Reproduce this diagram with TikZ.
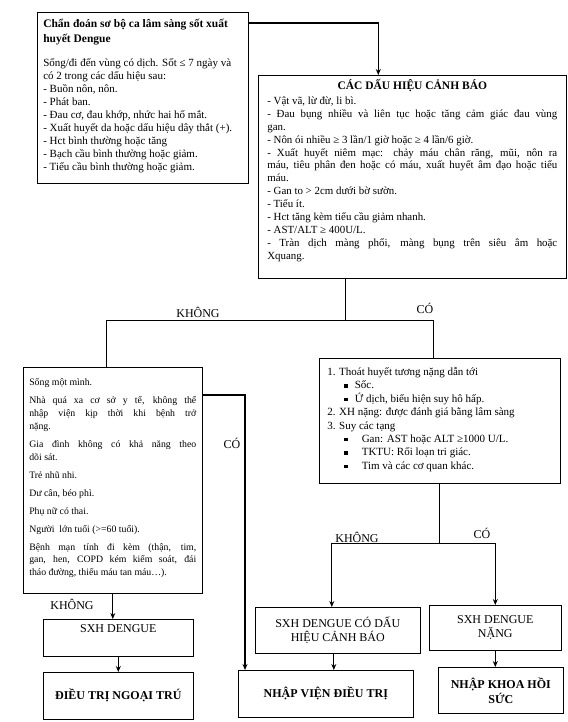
\documentclass[tikz,border=0pt]{standalone}
\usepackage{fontspec}
\setmainfont{Liberation Serif}
\usetikzlibrary{arrows.meta}
\newcommand{\fixbox}[3]{\parbox[c][#2][t]{#1}{#3}}
\newcommand{\sqbul}[1]{\hspace*{17pt}\rule[1pt]{3.5pt}{3.5pt}\hspace{#1}}

\begin{document}
\begin{tikzpicture}[x=1pt,y=-1pt,>={Stealth[length=6pt,width=5pt]},
  box/.style={draw,line width=0.6pt,inner xsep=6pt,inner ysep=4pt,anchor=north west},
  endbox/.style={draw,line width=0.6pt,anchor=north west,align=center,
    font=\fontsize{12}{14}\selectfont},
  conn/.style={line width=1.3pt},
  lbl/.style={font=\fontsize{12}{14}\selectfont}]
\useasboundingbox (0,0) rectangle (567,722);

% chan doan so bo
\node[box] (diag) at (37,12) {\fixbox{199pt}{163pt}{\fontsize{11}{13}\selectfont
  \vspace*{3pt}
  {\fontsize{11.5}{14.5}\selectfont\bfseries Chẩn đoán sơ bộ ca lâm sàng sốt xuất\\
  huyết Dengue\par}\vspace{11pt}
  Sống/đi đến vùng có dịch. Sốt ≤ 7 ngày và\\
  có 2 trong các dấu hiệu sau:\\
  - Buồn nôn, nôn.\\
  - Phát ban.\\
  - Đau cơ, đau khớp, nhức hai hố mắt.\\
  - Xuất huyết da hoặc dấu hiệu dây thắt (+).\\
  - Hct bình thường hoặc tăng\\
  - Bạch cầu bình thường hoặc giảm.\\
  - Tiểu cầu bình thường hoặc giảm.}};

% dau hieu canh bao
\node[box,inner xsep=9pt] (warn) at (258,75) {\fixbox{290pt}{195pt}{\fontsize{10.9}{12.9}\selectfont
  \hyphenpenalty=10000
  {\centering\fontsize{11.5}{14}\selectfont\bfseries CÁC DẤU HIỆU CẢNH BÁO\par}\vspace{2pt}
  - Vật vã, lừ đừ, li bì.\par
  - Đau bụng nhiều và liên tục hoặc tăng cảm giác đau vùng\linebreak gan.\par
  - Nôn ói nhiều ≥ 3 lần/1 giờ hoặc ≥ 4 lần/6 giờ.\par
  - Xuất huyết niêm mạc: chảy máu chân răng, mũi, nôn ra\linebreak
  máu, tiêu phân đen hoặc có máu, xuất huyết âm đạo hoặc tiểu\linebreak máu.\par
  - Gan to > 2cm dưới bờ sườn.\par
  - Tiểu ít.\par
  - Hct tăng kèm tiểu cầu giảm nhanh.\par
  - AST/ALT ≥ 400U/L.\par
  - Tràn dịch màng phổi, màng bụng trên siêu âm hoặc\linebreak Xquang.}};

% nguy co
\node[box] (mild) at (23,367) {\fixbox{167pt}{218pt}{\fontsize{9.8}{12.8}\selectfont
  \hyphenpenalty=10000 \setlength{\parskip}{5.2pt}
  \vspace*{2pt}
  Sống một mình.\par
  Nhà quá xa cơ sở y tế, không thể\linebreak nhập viện kịp thời khi bệnh trở\linebreak nặng.\par
  Gia đình không có khả năng theo\linebreak dõi sát.\par
  Trẻ nhũ nhi.\par
  Dư cân, béo phì.\par
  Phụ nữ có thai.\par
  Người \ lớn tuổi (>=60 tuổi).\par
  Bệnh mạn tính đi kèm (thận, tim,\linebreak gan, hen, COPD kém kiểm soát, đái\linebreak
  tháo đường, thiếu máu tan máu…).}};

% dengue nang
\node[box,inner xsep=8pt] (risk) at (319,358) {\fixbox{225pt}{117pt}{\fontsize{11}{13.4}\selectfont
  \vspace*{5pt}
  1. Thoát huyết tương nặng dẫn tới\\
  \sqbul{7pt}Sốc.\\
  \sqbul{7pt}Ứ dịch, biểu hiện suy hô hấp.\\
  2. XH nặng: được đánh giá bằng lâm sàng\\
  3. Suy các tạng\\
  \sqbul{14pt}Gan: AST hoặc ALT ≥1000 U/L.\\
  \sqbul{14pt}TKTU: Rối loạn tri giác.\\
  \sqbul{14pt}Tim và các cơ quan khác.}};

\node[endbox,inner sep=0pt] (dengue) at (43,619)
  {\fixbox{150pt}{37pt}{\centering\vspace{5pt}SXH DENGUE}};
\node[endbox,minimum width=150pt,minimum height=47pt,font=\fontsize{12}{14}\selectfont\bfseries]
  (outpt) at (43,672) {ĐIỀU TRỊ NGOẠI TRÚ};
\node[endbox,minimum width=165pt,minimum height=46pt] (warnbox) at (255,607)
  {SXH DENGUE CÓ DẤU\\HIỆU CẢNH BÁO};
\node[endbox,minimum width=132pt,minimum height=45pt] (severe) at (429,605)
  {SXH DENGUE\\NẶNG};
\node[endbox,minimum width=175pt,minimum height=47pt,font=\fontsize{12}{14}\selectfont\bfseries]
  (admit) at (238,670) {NHẬP VIỆN ĐIỀU TRỊ};
\node[endbox,minimum width=125pt,minimum height=46pt,font=\fontsize{12}{15}\selectfont\bfseries]
  (icu) at (438,667) {NHẬP KHOA HỒI\\SỨC};

% duong noi
\draw[conn,->] ([yshift=-11pt]diag.north east) -| ([xshift=-34pt]warn.north);
\draw[conn] ([xshift=-67pt]warn.south) -- ++(0,42) coordinate (fork1);
\draw[conn] ([xshift=-6pt]mild.north) |- (fork1) -| ([xshift=-6pt]risk.north);
\node[lbl] (no1) at (198,312) {KHÔNG};
\node[lbl] (yes1) at (425,308) {CÓ};

\draw[conn,->] ([yshift=-28pt]mild.north east) -| ([xshift=7pt]admit.north west);
\node[lbl] (yes2) at (232,443) {CÓ};
\draw[conn,->] (mild.south) -- (mild.south |- dengue.north);
\node[lbl] (no2) at (72,604) {KHÔNG};
\draw[conn,->] (dengue.south) -- (outpt.north);

\draw[conn] (risk.south) -- ++(0,60) coordinate (fork2);
\draw[conn,->] (fork2) -| ([xshift=-6pt]warnbox.north);
\draw[conn,->] (fork2) -| (severe.north);
\node[lbl] (no3) at (357,537) {KHÔNG};
\node[lbl] (yes3) at (482,533) {CÓ};
\draw[conn,->] ([xshift=-4pt]warnbox.south) -- ([xshift=-4pt]warnbox.south |- admit.north);
\draw[conn,->] (severe.south) -- (severe.south |- icu.north);
\end{tikzpicture}
\end{document}
